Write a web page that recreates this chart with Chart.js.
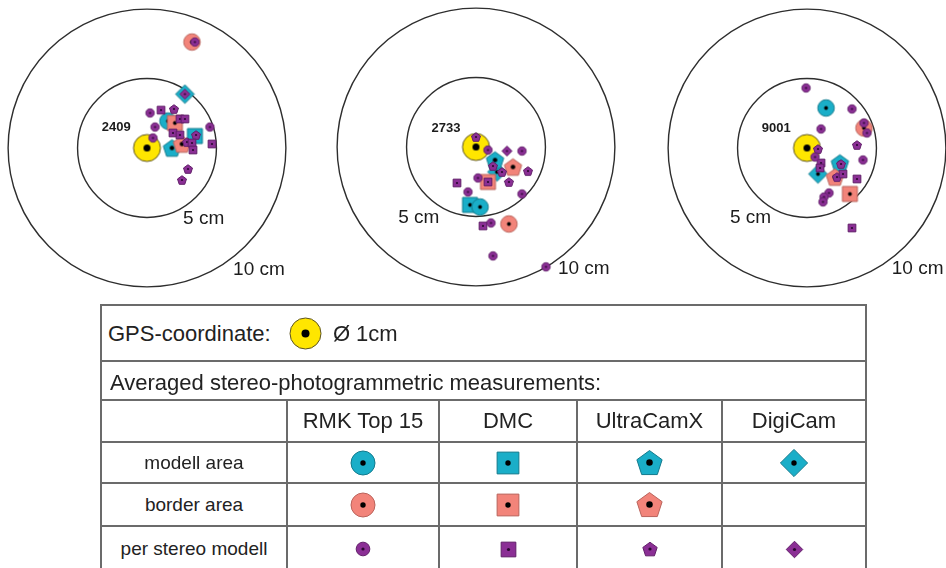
<!DOCTYPE html>
<html>
<head>
<meta charset="utf-8">
<script src="https://cdn.jsdelivr.net/npm/chart.js@4.4.1/dist/chart.umd.min.js"></script>
<style>
html, body { margin: 0; padding: 0; background: #fff; width: 946px; height: 568px; overflow: hidden;
  font-family: "Liberation Sans", Arial, sans-serif; color: #222; }
.panel { position: absolute; width: 300px; height: 300px; }
#legend { position: absolute; left: 100px; top: 304px; border-collapse: collapse; table-layout: fixed; }
#legend td { border: 2px solid #6b6b6b; padding: 0; text-align: center; vertical-align: middle; }
#legend td.wide { text-align: left; font-size: 22px; }
#legend td.head { font-size: 22px; }
#legend td.name { font-size: 19px; }
#legend canvas { display: inline-block; vertical-align: middle; }
.gps span { vertical-align: middle; }
</style>
</head>
<body>
<canvas id="p0" class="panel" width="300" height="300" style="left:-3px;top:-2px"></canvas>
<canvas id="p1" class="panel" width="300" height="300" style="left:326px;top:-3px"></canvas>
<canvas id="p2" class="panel" width="300" height="300" style="left:657px;top:-2px"></canvas>
<table id="legend"></table>
<script>
// check points
const panelIds = ['2409', '2733', '9001'];
const ringRadii = [5, 10];
const ringLabels = ['5 cm', '10 cm'];
const cameras = ['RMK Top 15', 'DMC', 'UltraCamX', 'DigiCam'];
const rowNames = ['modell area', 'border area', 'per stereo modell'];

// GPS coordinate of each point (cm), it is the target centre
const gps = [[0, 0], [0, 0], [0, 0]];

// averaged measurements, modell area (one per panel, null = none)
const rmkModell = [[1.51, 1.94], [0.29, -4.32], [1.37, 2.88]];
const dmcModell = [[3.45, 0.86], [-0.43, -4.17], null];
const ucxModell = [[1.80, 0.00], [1.37, -0.94], [2.37, -1.08]];
const digiModell = [[2.73, 3.88], [1.51, -1.80], [0.79, -1.87]];

// averaged measurements, border area
const rmkBorder = [[3.24, 7.63], [2.37, -5.54], [4.10, 1.44]];
const dmcBorder = [[2.01, 1.80], [0.86, -2.52], [3.09, -3.31]];
const ucxBorder = [[2.52, 0.29], [2.66, -1.44], [2.01, -2.09]];

// per stereo modell, one list per panel
const rmkStereo = [
  [[0.22, 2.52], [0.58, 1.51], [4.53, 1.51], [0.43, 0.72], [3.45, 7.63]],
  [[0.86, -0.22], [3.31, -0.29], [0.14, -2.23], [-0.58, -3.24], [3.31, -3.38], [1.08, -5.47], [1.22, -7.84], [5.04, -8.63]],
  [[-0.07, 4.32], [3.24, 2.81], [1.01, 1.37], [4.10, 1.80], [4.32, 1.08], [0.58, -0.65], [4.03, -0.86], [1.58, -3.24], [1.22, -3.53], [1.15, -3.88]]
];
const dmcStereo = [
  [[1.01, 2.73], [2.37, 2.09], [2.73, 2.09], [1.87, 1.08], [2.37, 0.94], [3.24, 0.36], [3.31, -0.14], [4.68, 0.29]],
  [[0.86, -2.52], [-1.37, -2.59], [0.50, -5.68]],
  [[1.01, -1.08], [0.94, -1.44], [2.59, -1.87], [3.60, -2.23], [3.24, -5.76]]
];
const ucxStereo = [
  [[1.94, 2.81], [3.53, 0.94], [2.88, 0.43], [2.95, -1.51], [2.52, -2.30]],
  [[0.00, 0.72], [1.22, -1.37], [1.87, -1.80], [3.74, -1.73], [2.37, -2.52]],
  [[0.79, -0.07], [3.60, 0.22], [2.45, -1.15], [2.16, -2.09]]
];
const digiStereo = [
  [[2.73, 3.88]],
  [[2.23, -0.29]],
  []
];

const CYAN = '#1aaec8', CYAN_EDGE = '#137a8c';
const SALMON = '#f2847a', SALMON_EDGE = '#b9635b';
const PURPLE = '#8b2f95', PURPLE_EDGE = '#611f69';
const YELLOW = '#ffe600', YELLOW_EDGE = '#5b5224';

function makeMarker(shape, r, fill, edge, dotR, dotColor) {
  const s = Math.ceil(2 * r + 4);
  const c = document.createElement('canvas');
  c.width = s; c.height = s;
  const g = c.getContext('2d');
  const m = s / 2;
  g.beginPath();
  if (shape === 'circle') {
    g.arc(m, m, r, 0, Math.PI * 2);
  } else if (shape === 'square') {
    g.rect(m - r, m - r, 2 * r, 2 * r);
  } else if (shape === 'diamond') {
    g.moveTo(m, m - r); g.lineTo(m + r, m); g.lineTo(m, m + r); g.lineTo(m - r, m);
    g.closePath();
  } else {
    for (let k = 0; k < 5; k++) {
      const a = -Math.PI / 2 + k * 2 * Math.PI / 5;
      const px = m + r * Math.cos(a), py = m + r * Math.sin(a) + r * 0.1;
      if (k === 0) g.moveTo(px, py); else g.lineTo(px, py);
    }
    g.closePath();
  }
  g.fillStyle = fill; g.fill();
  g.lineWidth = 1; g.strokeStyle = edge; g.stroke();
  g.beginPath(); g.arc(m, m, dotR, 0, Math.PI * 2);
  g.fillStyle = dotColor; g.fill();
  return c;
}

// marker look for each series, small for the panels, big for the table
function styleSet(big) {
  const f = big ? 1.6 : 1.1;
  const pf = big ? 1 : 1.1;
  const d = big ? 2.7 : 1.9;
  const pd = big ? 1.6 : 1.1;
  return {
    gps: makeMarker('circle', (big ? 15.5 : 13.5), YELLOW, YELLOW_EDGE, big ? 4 : 3.5, '#000'),
    rmkModell: makeMarker('circle', 7.5 * f, CYAN, CYAN_EDGE, d, '#000'),
    dmcModell: makeMarker('square', 6.8 * f, CYAN, CYAN_EDGE, d, '#000'),
    ucxModell: makeMarker('pentagon', 8.3 * f, CYAN, CYAN_EDGE, d * 1.2, '#000'),
    digiModell: makeMarker('diamond', 8.5 * f, CYAN, CYAN_EDGE, d, '#000'),
    rmkBorder: makeMarker('circle', 7.5 * f, SALMON, SALMON_EDGE, d, '#000'),
    dmcBorder: makeMarker('square', 6.8 * f, SALMON, SALMON_EDGE, d, '#000'),
    ucxBorder: makeMarker('pentagon', 8.3 * f, SALMON, SALMON_EDGE, d * 1.2, '#000'),
    rmkStereo: makeMarker('circle', 3.8 * (big ? 1.8 : pf), PURPLE, PURPLE_EDGE, pd, '#2a0830'),
    dmcStereo: makeMarker('square', 3.5 * (big ? 2.1 : pf), PURPLE, PURPLE_EDGE, pd, '#2a0830'),
    ucxStereo: makeMarker('pentagon', 4.3 * (big ? 1.75 : pf), PURPLE, PURPLE_EDGE, pd, '#2a0830'),
    digiStereo: makeMarker('diamond', 4.6 * (big ? 1.8 : pf), PURPLE, PURPLE_EDGE, pd, '#2a0830')
  };
}
const small = styleSet(false);

function pts(list) {
  return list ? list.map(p => ({x: p[0], y: p[1]})) : [];
}

// label placement inside each panel, cm from the centre
const labelPlace = [
  {rings: [[2.6, -5.1], [6.2, -8.8]], id: [-3.25, 1.45]},
  {rings: [[-5.6, -5.1], [5.9, -8.8]], id: [-3.2, 1.35]},
  {rings: [[-5.55, -5.0], [6.1, -8.7]], id: [-3.25, 1.4]}
];

function targetPlugin(i) {
  return {
    id: 'target' + i,
    beforeDatasetsDraw(chart) {
      const {ctx, scales: {x, y}} = chart;
      const cx = x.getPixelForValue(0), cy = y.getPixelForValue(0);
      ctx.save();
      ctx.strokeStyle = '#2e2e2e';
      ctx.lineWidth = 1.4;
      ringRadii.forEach(r => {
        ctx.beginPath();
        ctx.arc(cx, cy, x.getPixelForValue(r) - cx, 0, Math.PI * 2);
        ctx.stroke();
      });
      ctx.fillStyle = '#1c1c1c';
      ctx.textAlign = 'left';
      ctx.textBaseline = 'middle';
      ctx.font = '19px "Liberation Sans", Arial, sans-serif';
      labelPlace[i].rings.forEach((p, k) => {
        ctx.fillText(ringLabels[k], x.getPixelForValue(p[0]), y.getPixelForValue(p[1]));
      });
      ctx.font = 'bold 13px "Liberation Sans", Arial, sans-serif';
      const ip = labelPlace[i].id;
      ctx.fillText(panelIds[i], x.getPixelForValue(ip[0]), y.getPixelForValue(ip[1]));
      ctx.restore();
    }
  };
}

panelIds.forEach((id, i) => {
  // first dataset is drawn on top
  const series = [
    ['rmkStereo', rmkStereo[i]], ['dmcStereo', dmcStereo[i]], ['ucxStereo', ucxStereo[i]], ['digiStereo', digiStereo[i]],
    ['rmkBorder', rmkBorder[i] && [rmkBorder[i]]], ['dmcBorder', dmcBorder[i] && [dmcBorder[i]]], ['ucxBorder', ucxBorder[i] && [ucxBorder[i]]],
    ['rmkModell', rmkModell[i] && [rmkModell[i]]], ['dmcModell', dmcModell[i] && [dmcModell[i]]],
    ['ucxModell', ucxModell[i] && [ucxModell[i]]], ['digiModell', digiModell[i] && [digiModell[i]]],
    ['gps', [gps[i]]]
  ];
  new Chart(document.getElementById('p' + i), {
    type: 'scatter',
    data: {
      datasets: series.map(s => ({
        label: s[0],
        data: pts(s[1]),
        pointStyle: small[s[0]],
        pointRadius: 5
      }))
    },
    options: {
      responsive: false,
      animation: false,
      layout: {padding: 0, autoPadding: false},
      events: [],
      scales: {
        x: {type: 'linear', min: -10.8, max: 10.8, display: false},
        y: {type: 'linear', min: -10.8, max: 10.8, display: false}
      },
      plugins: {legend: {display: false}, tooltip: {enabled: false}}
    },
    plugins: [targetPlugin(i)]
  });
});

// legend table
const big = styleSet(true);
const iconKeys = [
  ['rmkModell', 'dmcModell', 'ucxModell', 'digiModell'],
  ['rmkBorder', 'dmcBorder', 'ucxBorder', null],
  ['rmkStereo', 'dmcStereo', 'ucxStereo', 'digiStereo']
];
const colW = [186, 152, 138, 145, 144];
const rowH = [41, 43, 46];
const table = document.getElementById('legend');
let html = '<colgroup>' + colW.map(w => '<col style="width:' + w + 'px">').join('') + '</colgroup>';
html += '<tr style="height:56px"><td colspan="5" class="wide gps" style="padding-left:6px">' +
  '<span>GPS-coordinate:</span> <span id="gpsIcon" style="display:inline-block;margin:0 4px 0 11px"></span> <span>\u00d8 1cm</span></td></tr>';
html += '<tr style="height:39px"><td colspan="5" class="wide" style="padding-left:8px;padding-top:4px">Averaged stereo-photogrammetric measurements:</td></tr>';
html += '<tr style="height:42px"><td></td>' + cameras.map(c => '<td class="head">' + c + '</td>').join('') + '</tr>';
rowNames.forEach((n, r) => {
  html += '<tr style="height:' + rowH[r] + 'px"><td class="name">' + n + '</td>' +
    iconKeys[r].map((k, c) => '<td id="ic' + r + '_' + c + '"></td>').join('') + '</tr>';
});
table.innerHTML = html;
document.getElementById('gpsIcon').appendChild(big.gps);
iconKeys.forEach((row, r) => row.forEach((k, c) => {
  if (k) document.getElementById('ic' + r + '_' + c).appendChild(big[k]);
}));
</script>
</body>
</html>
